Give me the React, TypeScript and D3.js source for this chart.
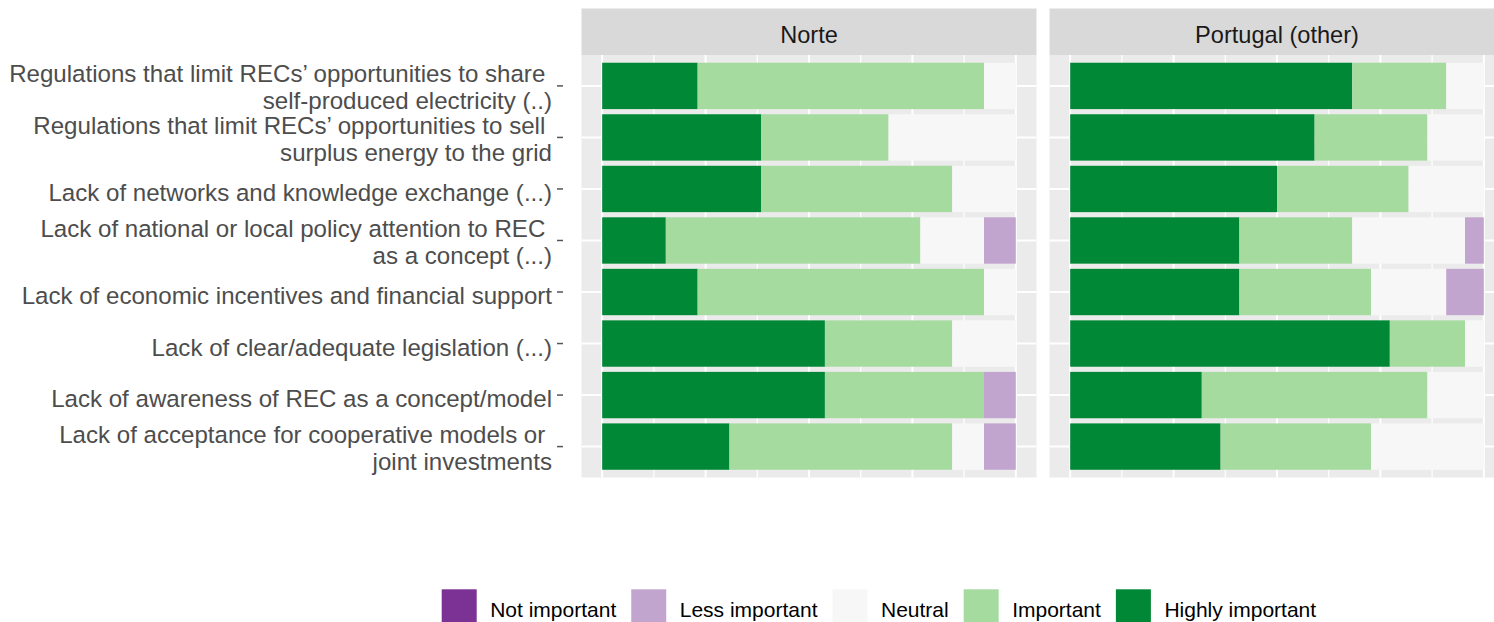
import React from "react";
import * as d3 from "d3";

const categoryLines: string[][] = [
  ["Regulations that limit RECs’ opportunities to share ", "self-produced electricity (..)"],
  ["Regulations that limit RECs’ opportunities to sell ", "surplus energy to the grid"],
  ["Lack of networks and knowledge exchange (...)"],
  ["Lack of national or local policy attention to REC ", "as a concept (...)"],
  ["Lack of economic incentives and financial support"],
  ["Lack of clear/adequate legislation (...)"],
  ["Lack of awareness of REC as a concept/model"],
  ["Lack of acceptance for cooperative models or ", "joint investments"],
];

const regions = ["Norte", "Portugal (other)"];

// stacking order from left to right
const levels = ["Highly important", "Important", "Neutral", "Less important", "Not important"];
const legendLevels = ["Not important", "Less important", "Neutral", "Important", "Highly important"];
const levelColors: Record<string, string> = {
  "Not important": "#7b3294",
  "Less important": "#c2a5cf",
  Neutral: "#f7f7f7",
  Important: "#a6dba0",
  "Highly important": "#008837",
};

// response counts per category (Norte, n = 13)
const norteHighly = [3, 5, 5, 2, 3, 7, 7, 4];
const norteImportant = [9, 4, 6, 8, 9, 4, 5, 7];
const norteNeutral = [1, 4, 2, 2, 1, 2, 0, 1];
const norteLess = [0, 0, 0, 1, 0, 0, 1, 1];
const norteNot = [0, 0, 0, 0, 0, 0, 0, 0];

// response counts per category (Portugal other, n = 22)
const ptHighly = [15, 13, 11, 9, 9, 17, 7, 8];
const ptImportant = [5, 6, 7, 6, 7, 4, 12, 8];
const ptNeutral = [2, 3, 4, 6, 4, 1, 3, 6];
const ptLess = [0, 0, 0, 1, 2, 0, 0, 0];
const ptNot = [0, 0, 0, 0, 0, 0, 0, 0];

const regionData: Record<string, number[][]> = {
  Norte: [norteHighly, norteImportant, norteNeutral, norteLess, norteNot],
  "Portugal (other)": [ptHighly, ptImportant, ptNeutral, ptLess, ptNot],
};

const xBreaksMajor = [0, 0.25, 0.5, 0.75, 1];
const xBreaksMinor = [0.125, 0.375, 0.625, 0.875];

const W = 1494;
const H = 622;
const FONT = "'Liberation Sans', Arial, Helvetica, sans-serif";

function measure(text: string, size: number): number {
  const c = document.createElement("canvas").getContext("2d");
  if (!c) return text.length * size * 0.5;
  c.font = `${size}px ${FONT}`;
  return c.measureText(text).width;
}

export default function App() {
  const panelTop = 55;
  const panelBottom = 477.5;
  const stripTop = 8.5;
  const panelW = 455;
  const panelLefts = [581.5, 1049.5];

  const idx = categoryLines.map((_, i) => i);
  const y = d3
    .scaleBand<number>()
    .domain(idx)
    .range([panelTop, panelBottom])
    .paddingInner(0.1)
    .paddingOuter(0.15);

  // legend layout
  const legendFont = 21;
  const keySize = 35;
  let lx = 441.7;
  const legendItems = legendLevels.map((lv) => {
    const item = { lv, x: lx, tx: lx + keySize + 13.5 };
    lx = item.tx + measure(lv, legendFont) + 15;
    return item;
  });

  return (
    <svg
      width={W}
      height={H}
      style={{ position: "absolute", left: 0, top: 0, background: "#fff" }}
      fontFamily={FONT}
    >
      {/* y axis labels and ticks */}
      {categoryLines.map((lines, i) => {
        const c = (y(i) as number) + y.bandwidth() / 2;
        const baselines = lines.length === 1 ? [c + 12] : [c - 3.5, c + 23.5];
        return (
          <g key={i}>
            <text
              textAnchor="end"
              fontSize={24.1}
              fill="#4d4d4d"
              style={{ whiteSpace: "pre" }}
            >
              {lines.map((ln, j) => (
                <tspan key={j} x={552} y={baselines[j]}>
                  {ln}
                </tspan>
              ))}
            </text>
            <line x1={557} x2={563} y1={c} y2={c} stroke="#555" strokeWidth={1.5} />
          </g>
        );
      })}

      {regions.map((reg, ri) => {
        const left = panelLefts[ri];
        const x = d3.scaleLinear().domain([-0.05, 1.05]).range([left, left + panelW]);
        const series = regionData[reg];
        const totals = idx.map((i) => series.reduce((s, arr) => s + arr[i], 0));
        return (
          <g key={reg}>
            <rect x={left} y={stripTop} width={panelW} height={panelTop - stripTop} fill="#d9d9d9" />
            <text
              x={left + panelW / 2}
              y={43.3}
              textAnchor="middle"
              fontSize={23.6}
              fill="#1a1a1a"
            >
              {reg}
            </text>
            <rect x={left} y={panelTop} width={panelW} height={panelBottom - panelTop} fill="#ebebeb" />
            {xBreaksMinor.map((b) => (
              <line key={"mi" + b} x1={x(b)} x2={x(b)} y1={panelTop} y2={panelBottom} stroke="#fff" strokeWidth={1.2} />
            ))}
            {xBreaksMajor.map((b) => (
              <line key={"ma" + b} x1={x(b)} x2={x(b)} y1={panelTop} y2={panelBottom} stroke="#fff" strokeWidth={2} />
            ))}
            {idx.map((i) => {
              const c = (y(i) as number) + y.bandwidth() / 2;
              return <line key={"h" + i} x1={left} x2={left + panelW} y1={c} y2={c} stroke="#fff" strokeWidth={2} />;
            })}
            {idx.map((i) => {
              let cum = 0;
              return (
                <g key={"b" + i}>
                  {levels.map((lv, li) => {
                    const v = series[li][i] / totals[i];
                    const x0 = cum;
                    cum += v;
                    if (v <= 0) return null;
                    return (
                      <rect
                        key={lv}
                        x={x(x0)}
                        y={y(i) as number}
                        width={x(x0 + v) - x(x0)}
                        height={y.bandwidth()}
                        fill={levelColors[lv]}
                      />
                    );
                  })}
                </g>
              );
            })}
          </g>
        );
      })}

      {/* legend */}
      {legendItems.map((it) => (
        <g key={it.lv}>
          <rect x={it.x} y={589.3} width={keySize} height={keySize} fill={levelColors[it.lv]} />
          <text x={it.tx} y={617} fontSize={legendFont} fill="#000">
            {it.lv}
          </text>
        </g>
      ))}
    </svg>
  );
}
